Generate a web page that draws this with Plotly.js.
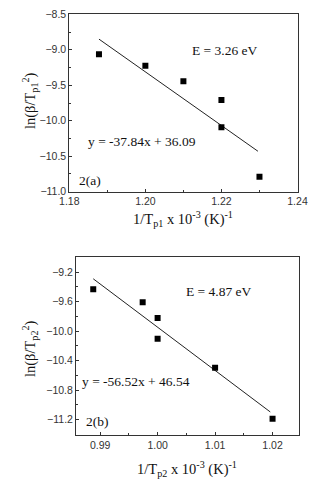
<!DOCTYPE html>
<html>
<head>
<meta charset="utf-8">
<script src="https://cdn.plot.ly/plotly-3.0.1.min.js"></script>
<style>html,body{margin:0;padding:0;background:#fff;}#chart{width:326px;height:485px;}</style>
</head>
<body>
<div id="chart"></div>
<script>
// Panel 2(a)
const xA = [1.1878, 1.20, 1.21, 1.22, 1.22, 1.23];
const yA = [-9.064, -9.224, -9.444, -9.708, -10.092, -10.789];
const fitXA = [1.1878, 1.2296];
const fitYA = [-8.85, -10.43];
// Panel 2(b)
const xB = [0.9888, 0.9974, 1.00, 1.00, 1.01, 1.02];
const yB = [-9.431, -9.608, -9.822, -10.103, -10.498, -11.19];
const fitXB = [0.9888, 1.0196];
const fitYB = [-9.29, -11.097];
// texts
const eqA = 'y = -37.84x + 36.09';
const eqB = 'y = -56.52x + 46.54';
const eA = 'E = 3.26 eV';
const eB = 'E = 4.87 eV';

const W = 326, H = 485;
const px = v => v / W;
const py = v => 1 - v / H;

const tickFont = {family: 'Liberation Sans, Arial, sans-serif', size: 10.5, color: '#333'};
const serif = {family: 'Liberation Serif, Times New Roman, serif', size: 13.5, color: '#111'};
const titleFont = {family: 'Liberation Serif, Times New Roman, serif', size: 14.5, color: '#111'};

function ax(extra) {
  return Object.assign({
    showgrid: false, zeroline: false, showline: true, mirror: true,
    linecolor: '#333', linewidth: 1, ticks: 'inside', ticklen: 3, tickcolor: '#333',
    tickfont: tickFont, fixedrange: true
  }, extra);
}

const data = [
  {x: fitXA, y: fitYA, mode: 'lines', line: {color: '#222', width: 1}, xaxis: 'x', yaxis: 'y', hoverinfo: 'skip'},
  {x: xA, y: yA, mode: 'markers', marker: {symbol: 'square', size: 6, color: '#000'}, xaxis: 'x', yaxis: 'y'},
  {x: fitXB, y: fitYB, mode: 'lines', line: {color: '#222', width: 1}, xaxis: 'x2', yaxis: 'y2', hoverinfo: 'skip'},
  {x: xB, y: yB, mode: 'markers', marker: {symbol: 'square', size: 6, color: '#000'}, xaxis: 'x2', yaxis: 'y2'}
];

const layout = {
  width: W, height: H,
  margin: {l: 0, r: 0, t: 0, b: 0},
  paper_bgcolor: '#fff', plot_bgcolor: '#fff',
  showlegend: false,
  xaxis: ax({domain: [px(69.3), px(297.5)], range: [1.18, 1.24], dtick: 0.02, tick0: 1.18, tickformat: '.2f',
             minor: {dtick: 0.01, ticks: 'inside', ticklen: 2, tickcolor: '#333'}, anchor: 'y'}),
  yaxis: ax({domain: [py(191.7), py(14.3)], range: [-11, -8.5], dtick: 0.5, tick0: -11, tickformat: '.1f',
             minor: {dtick: 0.25, ticks: 'inside', ticklen: 2, tickcolor: '#333'}, anchor: 'x'}),
  xaxis2: ax({domain: [px(76), px(299)], range: [0.9858, 1.0246], dtick: 0.01, tick0: 0.99, tickformat: '.2f',
             minor: {dtick: 0.005, ticks: 'inside', ticklen: 2, tickcolor: '#333'}, anchor: 'y2'}),
  yaxis2: ax({domain: [py(435), py(256.7)], range: [-11.41, -8.99], dtick: 0.4, tick0: -11.2, tickformat: '.1f',
             minor: {dtick: 0.2, ticks: 'inside', ticklen: 2, tickcolor: '#333'}, anchor: 'x2'}),
  annotations: [
    {text: eA, x: 1.221, y: -9.013, xref: 'x', yref: 'y', showarrow: false, font: serif},
    {text: eqA, x: 1.1991, y: -10.295, xref: 'x', yref: 'y', showarrow: false, font: serif},
    {text: '2(a)', x: 1.1854, y: -10.849, xref: 'x', yref: 'y', showarrow: false, font: serif},
    {text: eB, x: 1.0107, y: -9.468, xref: 'x2', yref: 'y2', showarrow: false, font: serif},
    {text: eqB, x: 0.99625, y: -10.679, xref: 'x2', yref: 'y2', showarrow: false, font: serif},
    {text: '2(b)', x: 0.98957, y: -11.223, xref: 'x2', yref: 'y2', showarrow: false, font: serif},
    {text: '1/T<sub>p1</sub> x 10<sup>-3</sup> (K)<sup>-1</sup>', x: px(183), y: py(219), xref: 'paper', yref: 'paper',
     xanchor: 'center', yanchor: 'middle', showarrow: false, font: titleFont},
    {text: '1/T<sub>p2</sub> x 10<sup>-3</sup> (K)<sup>-1</sup>', x: px(187), y: py(469), xref: 'paper', yref: 'paper',
     xanchor: 'center', yanchor: 'middle', showarrow: false, font: titleFont},
    {text: 'ln(β/T<sub>p1</sub><sup>2</sup>)', x: px(30), y: py(101), xref: 'paper', yref: 'paper', textangle: -90,
     xanchor: 'center', yanchor: 'middle', showarrow: false, font: titleFont},
    {text: 'ln(β/T<sub>p2</sub><sup>2</sup>)', x: px(30), y: py(349), xref: 'paper', yref: 'paper', textangle: -90,
     xanchor: 'center', yanchor: 'middle', showarrow: false, font: titleFont}
  ]
};

Plotly.newPlot('chart', data, layout, {displayModeBar: false, staticPlot: true});
</script>
</body>
</html>
